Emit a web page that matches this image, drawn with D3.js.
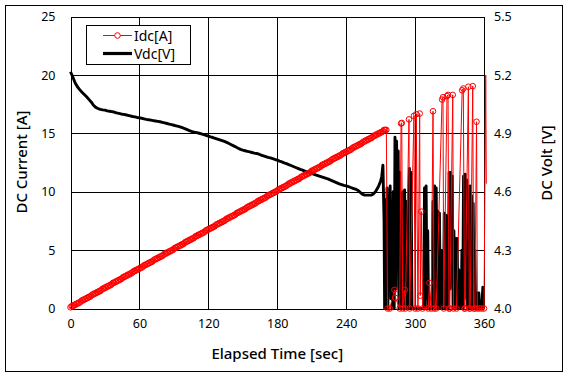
<!DOCTYPE html>
<html>
<head>
<meta charset="utf-8">
<script src="https://cdn.jsdelivr.net/npm/d3@7"></script>
<style>
  html, body { margin: 0; padding: 0; background: #fff; }
  svg { display: block; }
  text { font-family: "Noto Sans", "Open Sans", sans-serif; fill: #000; }
</style>
</head>
<body>
<svg id="chart" width="569" height="380"></svg>
<script>
// ---------- DATA ----------
// Current series Idc[A]: elapsed time (s) and value (A)
const currentTime = [
  0,1,2,3,4,5,6,7,8,9,10,11,12,13,14,15,16,17,18,19,20,21,22,23,24,25,26,27,28,29,
  30,31,32,33,34,35,36,37,38,39,40,41,42,43,44,45,46,47,48,49,50,51,52,53,54,55,56,57,58,59,
  60,61,62,63,64,65,66,67,68,69,70,71,72,73,74,75,76,77,78,79,80,81,82,83,84,85,86,87,88,89,
  90,91,92,93,94,95,96,97,98,99,100,101,102,103,104,105,106,107,108,109,110,111,112,113,114,115,116,117,118,119,
  120,121,122,123,124,125,126,127,128,129,130,131,132,133,134,135,136,137,138,139,140,141,142,143,144,145,146,147,148,149,
  150,151,152,153,154,155,156,157,158,159,160,161,162,163,164,165,166,167,168,169,170,171,172,173,174,175,176,177,178,179,
  180,181,182,183,184,185,186,187,188,189,190,191,192,193,194,195,196,197,198,199,200,201,202,203,204,205,206,207,208,209,
  210,211,212,213,214,215,216,217,218,219,220,221,222,223,224,225,226,227,228,229,230,231,232,233,234,235,236,237,238,239,
  240,241,242,243,244,245,246,247,248,249,250,251,252,253,254,255,256,257,258,259,260,261,262,263,264,265,266,267,268,269,
  270,271,272,273,274,275,
  276,278,282,283,286.6,287.8,288.4,289.2,291,291.5,294.7,295.3,299,300,301,302.5,304,304.5,305.4,306.5,
  311.5,312.5,314,315.6,316.5,318.4,323.5,324.3,325,327.8,328.7,329.5,330.2,332.8,333.5,336,341,342,343,343.5,
  346.4,347.2,348,350.2,351,352,353.5,354.2,356,358,360,361.5,362
];
const currentA = [
  0.1,0.2,0.2,0.3,0.3,0.4,0.4,0.5,0.5,0.6,0.7,0.7,0.8,0.8,0.9,0.9,1.0,1.0,1.1,1.2,1.2,1.3,1.3,1.4,1.4,1.5,1.5,1.6,1.7,1.7,
  1.8,1.8,1.9,1.9,2.0,2.0,2.1,2.2,2.2,2.3,2.3,2.4,2.4,2.5,2.5,2.6,2.7,2.7,2.8,2.8,2.9,2.9,3.0,3.0,3.1,3.2,3.2,3.3,3.3,3.4,
  3.4,3.5,3.5,3.6,3.7,3.7,3.8,3.8,3.9,3.9,4.0,4.0,4.1,4.2,4.2,4.3,4.3,4.4,4.4,4.5,4.5,4.6,4.7,4.7,4.8,4.8,4.9,4.9,5.0,5.0,
  5.1,5.2,5.2,5.3,5.3,5.4,5.4,5.5,5.5,5.6,5.7,5.7,5.8,5.8,5.9,5.9,6.0,6.0,6.1,6.2,6.2,6.3,6.3,6.4,6.4,6.5,6.5,6.6,6.7,6.7,
  6.8,6.8,6.9,6.9,7.0,7.0,7.1,7.2,7.2,7.3,7.3,7.4,7.4,7.5,7.5,7.6,7.7,7.7,7.8,7.8,7.9,7.9,8.0,8.0,8.1,8.2,8.2,8.3,8.3,8.4,
  8.4,8.5,8.5,8.6,8.7,8.7,8.8,8.8,8.9,8.9,9.0,9.0,9.1,9.2,9.2,9.3,9.3,9.4,9.4,9.5,9.5,9.6,9.7,9.7,9.8,9.8,9.9,9.9,10.0,10.0,
  10.1,10.2,10.2,10.3,10.3,10.4,10.4,10.5,10.5,10.6,10.7,10.7,10.8,10.8,10.9,10.9,11.0,11.0,11.1,11.1,11.2,11.3,11.3,11.4,11.4,11.5,11.5,11.6,11.6,11.7,
  11.8,11.8,11.9,11.9,12.0,12.0,12.1,12.1,12.2,12.3,12.3,12.4,12.4,12.5,12.5,12.6,12.6,12.7,12.8,12.8,12.9,12.9,13.0,13.0,13.1,13.1,13.2,13.3,13.3,13.4,
  13.4,13.5,13.5,13.6,13.6,13.7,13.8,13.8,13.9,13.9,14.0,14.0,14.1,14.1,14.2,14.3,14.3,14.4,14.4,14.5,14.5,14.6,14.6,14.7,14.8,14.8,14.9,14.9,15.0,15.0,
  15.1,15.1,15.2,15.3,15.3,15.3,
  0,0,1.6,0.9,0,15.85,15.9,0,1.6,0,16.2,0,16.5,0,16.65,0,16.7,1.1,8.3,0,
  0,2.2,0,16.9,0,0,17.9,18.1,0,18.2,18.3,0,0,18.3,0,0,18.7,18.85,0,0,
  19.0,0,0,19.05,0,0,16.0,0,0,0,0,20.0,10.7
];

// Voltage series Vdc[V]: elapsed time (s) and value (V)
const voltTime = [
  0,2,4,6,8,10,12,14,16,18,20,22,24,26,28,30,32,34,36,38,40,42,44,46,48,50,52,54,56,58,
  60,62,64,66,68,70,72,74,76,78,80,82,84,86,88,90,92,94,96,98,100,102,104,106,108,110,112,114,116,118,
  120,122,124,126,128,130,132,134,136,138,140,142,144,146,148,150,152,154,156,158,160,162,164,166,168,170,172,174,176,178,
  180,182,184,186,188,190,192,194,196,198,200,202,204,206,208,210,212,214,216,218,220,222,224,226,228,230,232,234,236,238,
  240,242,244,246,248,250,252,254,256,258,260,262,264,266,268,270,271,272,
  273,273.5,274.3,275,275.6,276.3,277,277.6,278.3,279,279.7,280.3,281,281.8,282.5,283.2,283.9,284.6,285.3,286,
  286.7,287.4,288.1,288.8,289.5,290.2,290.9,291.6,292.3,293,293.7,294.4,295.1,295.8,296.5,297.3,307.5,308.2,308.9,309.6,
  310.3,311,311.7,315,315.6,316.3,317,317.7,318.4,319.1,319.8,320.5,321.2,321.9,322.6,323.3,324,324.7,325.4,326.1,
  326.8,327.5,328.2,328.9,329.6,330.3,331,331.7,332.4,333.1,333.8,334.5,335.2,335.9,336.6,337.3,338,338.7,339.4,340.1,
  340.8,341.5,342.2,342.9,343.6,344.3,345,345.7,346.4,347.1,347.8,348.5,349.2,349.9,350.6,351.3,352,352.7,354,354.5,
  355.5,356.2,358,359,359.5
];
const voltV = [
  5.217,5.19,5.16,5.14,5.125,5.112,5.10,5.088,5.075,5.062,5.045,5.034,5.028,5.024,5.021,5.02,5.016,5.014,5.012,5.010,5.006,5.003,5.000,4.998,4.996,4.993,4.99,4.987,4.985,4.982,
  4.98,4.978,4.975,4.972,4.97,4.968,4.966,4.964,4.962,4.96,4.957,4.954,4.951,4.948,4.945,4.942,4.939,4.936,4.932,4.928,4.923,4.918,4.913,4.909,4.906,4.904,4.901,4.898,4.894,4.89,
  4.886,4.882,4.879,4.875,4.871,4.867,4.863,4.859,4.854,4.848,4.842,4.836,4.83,4.824,4.818,4.814,4.811,4.808,4.805,4.802,4.799,4.797,4.793,4.789,4.785,4.781,4.777,4.774,4.77,4.766,
  4.763,4.758,4.754,4.749,4.745,4.740,4.735,4.73,4.725,4.72,4.715,4.711,4.706,4.702,4.698,4.694,4.690,4.686,4.682,4.678,4.674,4.67,4.666,4.661,4.656,4.651,4.646,4.641,4.637,4.633,
  4.63,4.626,4.622,4.618,4.614,4.608,4.598,4.588,4.583,4.583,4.583,4.583,4.59,4.605,4.626,4.655,4.68,4.737,
  4.45,4.00,4.56,4.00,4.62,4.00,4.58,4.10,4.63,4.05,4.55,4.00,4.60,4.00,4.88,4.10,4.86,4.20,4.81,4.00,
  4.70,4.00,4.59,4.05,4.60,4.00,4.61,4.00,4.55,4.00,4.45,4.00,4.72,4.00,4.70,4.00,4.00,4.62,4.00,4.63,
  4.05,4.40,4.00,4.00,4.55,4.00,4.63,4.10,4.62,4.00,4.50,4.00,4.49,4.00,4.30,4.00,4.20,4.00,4.49,4.00,
  4.48,4.00,4.45,4.00,4.70,4.10,4.70,4.20,4.68,4.00,4.40,4.00,4.36,4.00,4.36,4.00,4.20,4.00,4.15,4.00,
  4.30,4.00,4.68,4.05,4.69,4.10,4.66,4.00,4.45,4.00,4.63,4.00,4.58,4.00,4.54,4.00,4.30,4.00,4.00,4.08,
  4.08,4.00,4.00,4.11,4.00
];

const xTicks = [0, 60, 120, 180, 240, 300, 360];
const leftTicks = [0, 5, 10, 15, 20, 25];
const rightTicks = [4.0, 4.3, 4.6, 4.9, 5.2, 5.5];
const seriesNames = ["Idc[A]", "Vdc[V]"];

// ---------- LAYOUT ----------
const svg = d3.select("#chart");
const m = { left: 70.5, right: 484, top: 16.7, bottom: 308.5 };

const x = d3.scaleLinear().domain([0, 360]).range([m.left, m.right]);
const yL = d3.scaleLinear().domain([0, 25]).range([m.bottom, m.top]);
const yR = d3.scaleLinear().domain([4.0, 5.5]).range([m.bottom, m.top]);

// outer border
svg.append("rect").attr("x", 5.5).attr("y", 5.5).attr("width", 557).attr("height", 366)
  .attr("fill", "none").attr("stroke", "#000").attr("stroke-width", 1);

// grid
const grid = svg.append("g").attr("stroke", "#000").attr("stroke-width", 1).attr("shape-rendering", "crispEdges");
grid.selectAll("line.v").data(xTicks).join("line")
  .attr("x1", d => Math.round(x(d)) + 0.5).attr("x2", d => Math.round(x(d)) + 0.5)
  .attr("y1", m.top).attr("y2", m.bottom);
grid.selectAll("line.h").data(leftTicks).join("line")
  .attr("y1", d => Math.round(yL(d)) + 0.5).attr("y2", d => Math.round(yL(d)) + 0.5)
  .attr("x1", m.left).attr("x2", m.right);

// axes (labels only, using d3 axes)
const fmtR = d3.format(".1f");
const axB = svg.append("g").attr("transform", `translate(0,${m.bottom + 7})`)
  .call(d3.axisBottom(x).tickValues(xTicks).tickSize(0).tickPadding(4));
const axL = svg.append("g").attr("transform", `translate(${m.left - 13},0)`)
  .call(d3.axisLeft(yL).tickValues(leftTicks).tickSize(0).tickPadding(2));
const axR = svg.append("g").attr("transform", `translate(${m.right + 8},0)`)
  .call(d3.axisRight(yR).tickValues(rightTicks).tickFormat(fmtR).tickSize(0).tickPadding(2));
[axB, axL, axR].forEach(a => {
  a.select(".domain").remove();
  a.selectAll("text").attr("font-size", 12.5).attr("fill", "#000")
    .attr("font-family", '"Noto Sans", sans-serif');
});

// voltage line
const vData = voltTime.map((t, i) => [t, voltV[i]]);
svg.append("path").datum(vData)
  .attr("fill", "none").attr("stroke", "#000").attr("stroke-width", 2.9)
  .attr("stroke-linejoin", "round")
  .attr("d", d3.line().x(d => x(d[0])).y(d => yR(d[1])));

// current line + markers
const cData = currentTime.map((t, i) => [t, currentA[i]]);
svg.append("path").datum(cData)
  .attr("fill", "none").attr("stroke", "#ff0000").attr("stroke-width", 1)
  .attr("d", d3.line().x(d => x(d[0])).y(d => yL(d[1])));
svg.append("g").selectAll("circle").data(cData.filter(d => d[0] <= 360)).join("circle")
  .attr("cx", d => x(d[0])).attr("cy", d => yL(d[1])).attr("r", 2.8)
  .attr("fill", "none").attr("stroke", "#ff0000").attr("stroke-width", 1);

// legend
const lg = svg.append("g");
lg.append("rect").attr("x", 86.5).attr("y", 25.5).attr("width", 104).attr("height", 39)
  .attr("fill", "#fff").attr("stroke", "#000").attr("stroke-width", 1);
lg.append("line").attr("x1", 103).attr("x2", 132).attr("y1", 35.5).attr("y2", 35.5)
  .attr("stroke", "#ff0000").attr("stroke-width", 1);
lg.append("circle").attr("cx", 117.5).attr("cy", 35.5).attr("r", 2.8)
  .attr("fill", "#fff").attr("stroke", "#ff0000").attr("stroke-width", 1);
lg.append("line").attr("x1", 103).attr("x2", 132).attr("y1", 53.5).attr("y2", 53.5)
  .attr("stroke", "#000").attr("stroke-width", 3.2);
lg.selectAll("text.lt").data(seriesNames).join("text")
  .attr("x", 134).attr("y", (d, i) => 40.5 + i * 18)
  .attr("font-size", 14).text(d => d);

// axis titles
svg.append("text").attr("x", x(180)).attr("y", 359).attr("text-anchor", "middle")
  .attr("font-size", 15).attr("font-weight", 500).text("Elapsed Time [sec]");
svg.append("text").attr("transform", "translate(27,162) rotate(-90)").attr("text-anchor", "middle")
  .attr("font-size", 15).attr("font-weight", 500).text("DC Current [A]");
svg.append("text").attr("transform", "translate(552,163) rotate(-90)").attr("text-anchor", "middle")
  .attr("font-size", 15).attr("font-weight", 500).text("DC Volt [V]");
</script>
</body>
</html>
